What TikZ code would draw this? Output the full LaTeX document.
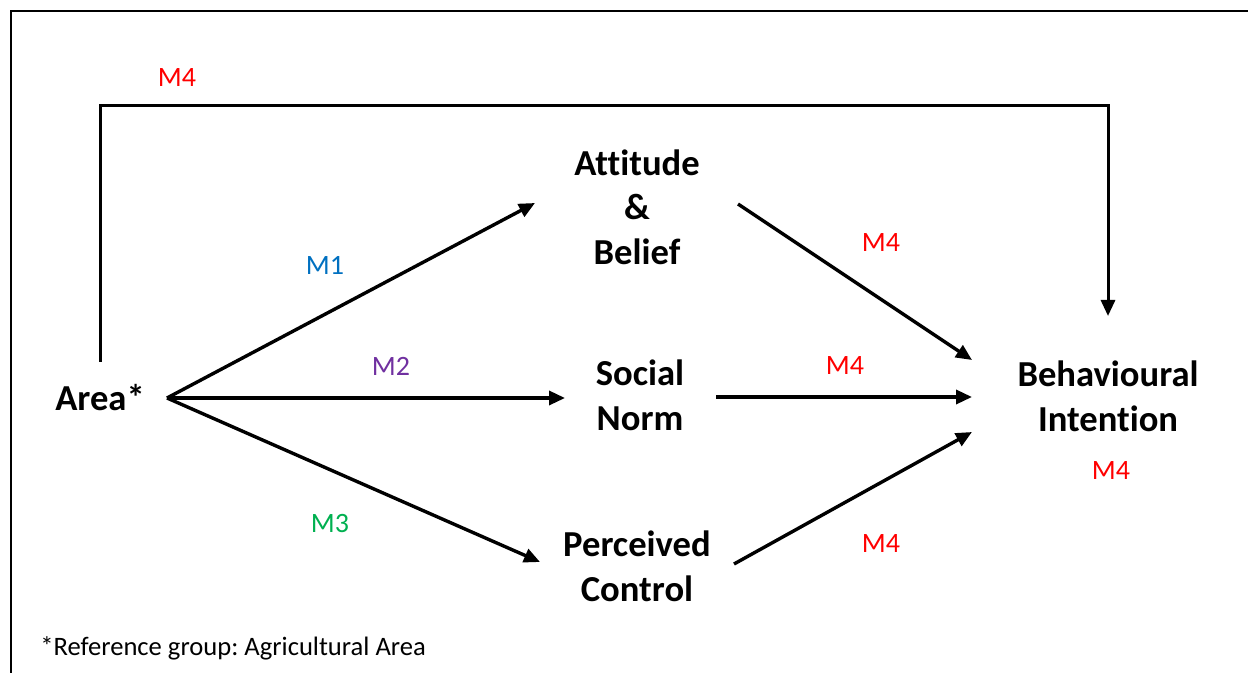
\documentclass[tikz,border=0pt]{standalone}
\usepackage{fontspec}
\setmainfont{Carlito}[Ligatures=NoCommon]
\frenchspacing
\usetikzlibrary{arrows.meta}
\definecolor{mblue}{HTML}{0070C0}
\definecolor{mpurple}{HTML}{7030A0}
\definecolor{mgreen}{HTML}{00B050}
\definecolor{mred}{HTML}{FF0000}
\begin{document}
\begin{tikzpicture}[x=0.5pt,y=-0.5pt,
  concept/.style={font=\fontsize{18.3}{22.3}\selectfont\bfseries, align=center, inner sep=0pt},
  lbl/.style={font=\fontsize{14}{16}\selectfont, inner sep=0pt},
  link/.style={line width=1.7pt, -{Triangle[length=8pt,width=7pt]}},
  frame/.style={line width=1pt}]
\useasboundingbox (0,0) rectangle (1248,673);
\draw[frame] (11,673) -- (11,11) -- (1248,11);

\node[concept] (area) at (100,398) {Area*};
\node[concept] (att) at (637,207) {Attitude\\\&\\Belief};
\node[concept] (soc) at (640,395) {Social\\Norm};
\node[concept] (per) at (637,566) {Perceived\\Control};
\node[concept] (beh) at (1108,396) {Behavioural\\Intention};

\coordinate (hub) at (167,398);
\coordinate (attIn) at (535,203);
\coordinate (socIn) at (565,398);
\coordinate (perIn) at (540,562);
\coordinate (attOut) at (738,204);
\coordinate (socOut) at (716,397);
\coordinate (perOut) at (734,564);
\coordinate (behA) at (972,360);
\coordinate (behS) at (972,397);
\coordinate (behP) at (972,432);
\coordinate (areaTop) at (100,362);
\coordinate (topR) at (1108,106);
\coordinate (behTop) at (1108,316);

\draw[link] (hub) -- (attIn);
\draw[link] (hub) -- (socIn);
\draw[link] (hub) -- (perIn);
\draw[link] (attOut) -- (behA);
\draw[link] (socOut) -- (behS);
\draw[link] (perOut) -- (behP);
\draw[link, line width=1.5pt] (areaTop) |- (topR) -- (behTop);

\node[lbl, text=mred] (m4top) at (177,78) {M4};
\node[lbl, text=mblue] (m1) at (325,265) {M1};
\node[lbl, text=mpurple] (m2) at (391,366) {M2};
\node[lbl, text=mgreen] (m3) at (330,524) {M3};
\node[lbl, text=mred] (m4a) at (881,243) {M4};
\node[lbl, text=mred] (m4s) at (845,366) {M4};
\node[lbl, text=mred] (m4b) at (1111,471) {M4};
\node[lbl, text=mred] (m4p) at (881,544) {M4};

\node[font=\fontsize{13.3}{16}\selectfont, inner sep=0pt, anchor=west] (note) at (40,648) {*Reference group: Agricultural Area};
\end{tikzpicture}
\end{document}
